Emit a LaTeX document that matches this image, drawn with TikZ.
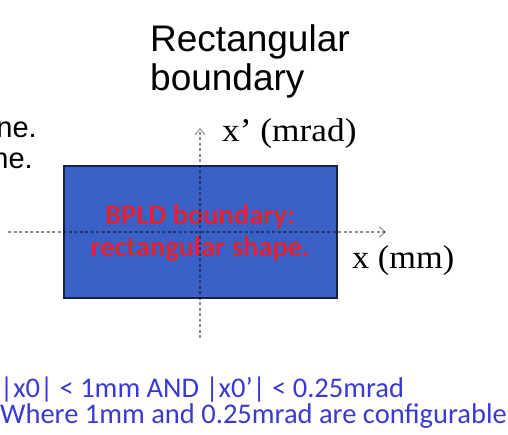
\documentclass[tikz,border=0pt]{standalone}
\usepackage{fontspec}
\usepackage{graphicx}
\setmainfont{Liberation Sans}
\newfontfamily\serifface{Liberation Serif}
\newfontfamily\calface{Carlito}
\usetikzlibrary{arrows.meta}
\definecolor{boxblue}{RGB}{58,98,198}
\definecolor{boxedge}{RGB}{22,34,70}
\definecolor{redtxt}{RGB}{222,36,52}
\definecolor{bluetxt}{RGB}{58,58,210}
\begin{document}
\begin{tikzpicture}[x=1pt,y=-1pt,
  axisline/.style={draw=black,draw opacity=0.45,line width=1.1pt,dash pattern=on 3pt off 2.5pt,
     -{Straight Barb[length=6pt,width=10pt,line width=1pt]}},
  sanslabel/.style={inner sep=0pt,font=\fontsize{37}{39}\selectfont,align=left},
  cutlabel/.style={inner sep=0pt,font=\fontsize{29}{31}\selectfont},
  seriflabel/.style={inner sep=0pt,font=\serifface\fontsize{33}{35}\selectfont},
  boxlabel/.style={inner sep=0pt,align=center,text=redtxt,font=\calface\bfseries\fontsize{28.5}{32}\selectfont},
  notelabel/.style={inner sep=0pt,align=left,text=bluetxt,font=\calface\fontsize{28.5}{28.5}\selectfont}]
\useasboundingbox (0,0) rectangle (508,434);
\clip (0,0) rectangle (508,434);
% title
\node[sanslabel,anchor=base west] (title1) at (150,51) {Rectangular};
\node[sanslabel,anchor=base west] (title2) at (150,90) {boundary};
% cut-off text at left
\node[cutlabel,anchor=base east] (cut1) at (37,137) {ne.};
\node[cutlabel,anchor=base east] (cut2) at (33,168) {ne.};
% box
\node[draw=boxedge,line width=2pt,fill=boxblue,minimum width=273pt,minimum height=132pt,inner sep=0pt] (box) at (200,231.5) {};
\node[boxlabel,anchor=base] (boxtxt1) at (200,224) {BPLD boundary:};
\node[boxlabel,anchor=base] (boxtxt2) at (200,256) {rectangular shape.};
% axes
\coordinate (hl) at (8,232);
\coordinate (hr) at (386,232);
\coordinate (vb) at (200,338);
\coordinate (vt) at (200,128);
\draw[axisline] (hl) -- (hr);
\draw[axisline] (vb) -- (vt);
% axis labels
\node[seriflabel,anchor=base west] (ylab) at (222,141) {\scalebox{1.07}[1]{x’ (mrad)}};
\node[seriflabel,anchor=base west] (xlab) at (352,268) {\scalebox{1.04}[1]{x (mm)}};
% note
\node[notelabel,anchor=base west] (note1) at (0,397) {|x0| < 1mm AND |x0’| < 0.25mrad};
\node[notelabel,anchor=base west] (note2) at (0,423) {Where 1mm and 0.25mrad are configurable};
\end{tikzpicture}
\end{document}
